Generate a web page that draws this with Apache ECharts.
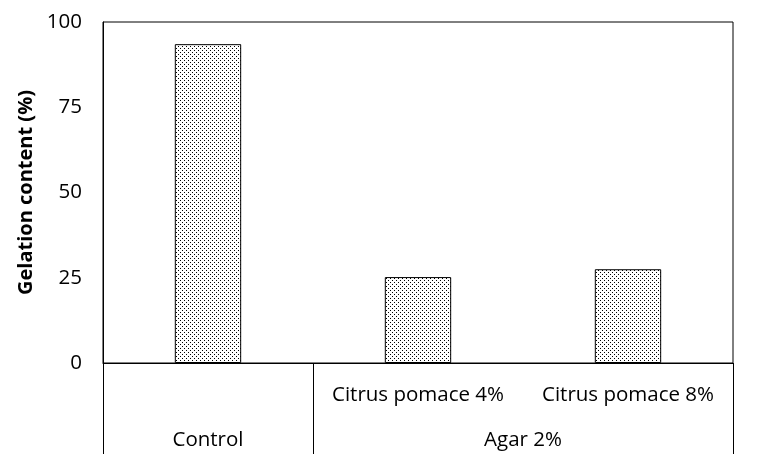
<!DOCTYPE html>
<html><head><meta charset="utf-8">
<script src="https://cdn.jsdelivr.net/npm/echarts@6/dist/echarts.min.js"></script>
<style>html,body{margin:0;padding:0;background:#fff}#c{width:770px;height:465px}</style>
</head><body><div id="c"></div>
<script>
const categories = ['Control', 'Citrus pomace 4%', 'Citrus pomace 8%'];
const categoryLabels = ['', 'Citrus pomace 4%', 'Citrus pomace 8%'];
const groups = ['Control', 'Agar 2%'];
const groupCenters = [0.5, 2];
const groupBoundaries = [0, 1, 3];
const values = [93.5, 25.2, 27.5];
const yTicks = [0, 25, 50, 75, 100];

const pc = document.createElement('canvas');
pc.width = 4; pc.height = 4;
const g = pc.getContext('2d');
g.fillStyle = '#fff'; g.fillRect(0, 0, 4, 4);
g.fillStyle = '#000'; g.fillRect(0, 0, 1, 1); g.fillRect(2, 2, 1, 1);

const FONT = 'Open Sans';
const chart = echarts.init(document.getElementById('c'), null, {renderer: 'canvas'});
chart.setOption({
  animation: false,
  backgroundColor: '#fff',
  grid: {left: 103, right: 37, top: 22, bottom: 102, show: true, borderColor: '#000', borderWidth: 1, containLabel: false},
  xAxis: [{
    type: 'category', data: categories,
    axisLine: {show: true, lineStyle: {color: '#000', width: 1}},
    axisTick: {show: false},
    axisLabel: {color: '#000', fontFamily: FONT, fontSize: 20.5, margin: 22, interval: 0,
      formatter: (v, i) => categoryLabels[i]},
    splitLine: {show: false}
  }, {
    type: 'value', min: 0, max: 3, position: 'bottom',
    axisLine: {show: false},
    axisTick: {show: true, customValues: groupBoundaries, length: 91, lineStyle: {color: '#000', width: 1}},
    axisLabel: {show: true, customValues: groupCenters, color: '#000', fontFamily: FONT, fontSize: 20.5, margin: 67,
      formatter: v => groups[groupCenters.indexOf(v)]},
    splitLine: {show: false}
  }],
  yAxis: {
    type: 'value', min: yTicks[0], max: yTicks[yTicks.length - 1], interval: 25,
    name: 'Gelation content (%)', nameLocation: 'middle', nameGap: 65, nameRotate: 90,
    nameTextStyle: {color: '#000', fontFamily: FONT, fontSize: 20, fontWeight: 'bold'},
    axisLine: {show: true, lineStyle: {color: '#000', width: 1}},
    axisTick: {show: false},
    axisLabel: {color: '#000', fontFamily: FONT, fontSize: 20.5, margin: 21},
    splitLine: {show: false}
  },
  series: [{
    type: 'bar', data: values, barWidth: '31.6%',
    itemStyle: {color: {image: pc, repeat: 'repeat'}, borderColor: '#000', borderWidth: 1}
  }]
});
</script></body></html>
